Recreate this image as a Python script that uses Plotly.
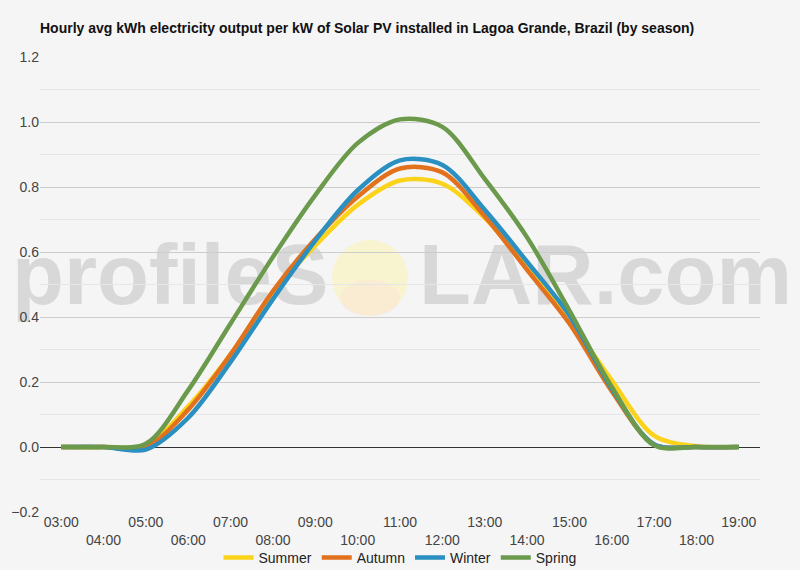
import plotly.graph_objects as go

hours = ["03:00", "04:00", "05:00", "06:00", "07:00", "08:00", "09:00", "10:00", "11:00",
         "12:00", "13:00", "14:00", "15:00", "16:00", "17:00", "18:00", "19:00"]
summer = [0, 0, 0.005, 0.125, 0.285, 0.475, 0.62, 0.745, 0.82, 0.81, 0.705, 0.555, 0.39, 0.205, 0.035, 0.002, 0]
autumn = [0, 0, 0.0, 0.115, 0.285, 0.48, 0.64, 0.77, 0.857, 0.845, 0.71, 0.545, 0.38, 0.172, 0.008, 0, 0]
winter = [0, 0, -0.008, 0.09, 0.262, 0.455, 0.635, 0.79, 0.882, 0.868, 0.73, 0.57, 0.405, 0.18, 0.008, 0, 0]
spring = [0, 0, 0.01, 0.175, 0.38, 0.585, 0.775, 0.935, 1.008, 0.985, 0.825, 0.645, 0.42, 0.185, 0.005, 0, 0]

series = [("Summer", summer, "#fbd31a"), ("Autumn", autumn, "#e2711d"),
          ("Winter", winter, "#2a8fc1"), ("Spring", spring, "#6b9a4d")]

tick_text = [h if i % 2 == 0 else "<br>" + h for i, h in enumerate(hours)]

W, H = 800, 570
L, R, T, B = 40, 40, 57, 58
pw, ph = W - L - R, H - T - B


def px_x(x):
    return (x - L) / pw


def px_y(y):
    return (H - B - y) / ph


fig = go.Figure()
for name, vals, col in series:
    fig.add_trace(go.Scatter(x=hours, y=vals, name=name, mode="lines",
                             line=dict(color=col, width=4.5, shape="spline", smoothing=0.9)))

bg = "#f5f5f5"
wm_font = dict(family="Liberation Sans, Arial", size=85, color="#d8d8d8", weight="bold")
shapes = [
    dict(type="circle", xref="paper", yref="paper", layer="below",
         x0=px_x(332), x1=px_x(408), y0=px_y(316), y1=px_y(240),
         fillcolor="#f9f4d0", line=dict(width=0)),
    dict(type="circle", xref="paper", yref="paper", layer="below",
         x0=px_x(340), x1=px_x(400), y0=px_y(316), y1=px_y(280),
         fillcolor="rgba(248,226,214,0.45)", line=dict(width=0)),
    dict(type="rect", xref="paper", yref="paper", layer="below",
         x0=px_x(6), x1=px_x(335), y0=px_y(316), y1=px_y(216),
         fillcolor="rgba(0,0,0,0)", line=dict(width=0),
         label=dict(text="profileS", font=wm_font, textposition="middle left", padding=3)),
    dict(type="rect", xref="paper", yref="paper", layer="below",
         x0=px_x(413), x1=px_x(800), y0=px_y(316), y1=px_y(216),
         fillcolor="rgba(0,0,0,0)", line=dict(width=0),
         label=dict(text="LAR.com", font=wm_font, textposition="middle left", padding=3)),
]

fig.update_layout(
    width=W, height=H,
    margin=dict(l=L, r=R, t=T, b=B, autoexpand=False),
    paper_bgcolor=bg, plot_bgcolor=bg,
    font=dict(family="Liberation Sans, Arial", size=14, color="#444444"),
    title=dict(text="<b>Hourly avg kWh electricity output per kW of Solar PV installed in Lagoa Grande, Brazil (by season)</b>",
               x=40 / W, xanchor="left", y=1 - 28 / H, yanchor="middle",
               font=dict(size=14, color="#111111")),
    shapes=shapes,
    legend=dict(orientation="h", x=0.5, xanchor="center", y=px_y(558), yanchor="middle",
                font=dict(size=14, color="#222222"), bgcolor="rgba(0,0,0,0)", itemwidth=30),
    showlegend=True,
)
fig.update_xaxes(type="category", range=[-0.5, len(hours) - 0.5], tickvals=hours, ticktext=tick_text,
                 showgrid=False, ticks="", showline=False, zeroline=False, automargin=False,
                 tickfont=dict(size=14, color="#444444"))
fig.update_yaxes(range=[-0.2, 1.2], dtick=0.2, tickformat=".1f", showgrid=True, gridcolor="#cccccc",
                 gridwidth=1, zeroline=True, zerolinecolor="#333333", zerolinewidth=1, automargin=False,
                 minor=dict(dtick=0.1, showgrid=True, gridcolor="#e6e6e6", gridwidth=1),
                 ticks="", tickfont=dict(size=14, color="#444444"))

fig.write_html("out.html")
